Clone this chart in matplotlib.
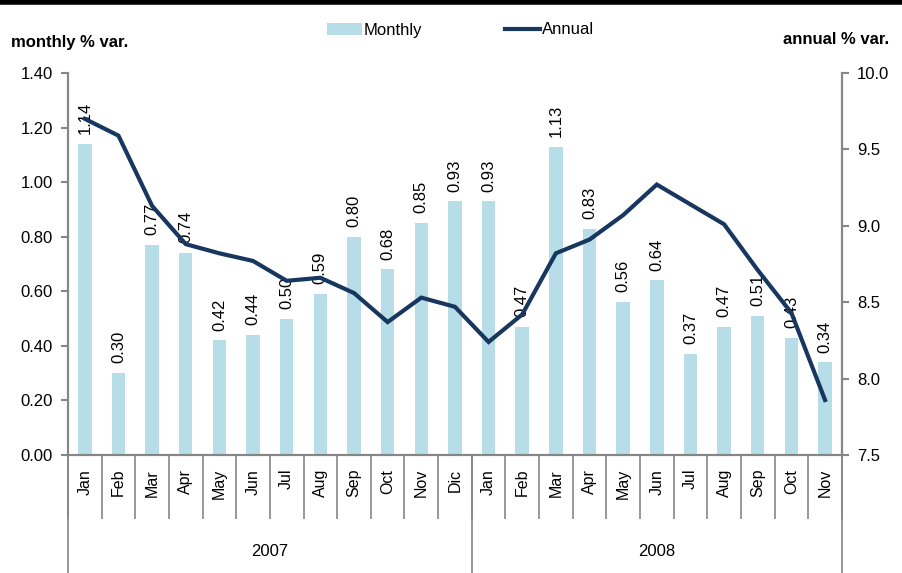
import numpy as np
import matplotlib
matplotlib.use('Agg')
import matplotlib.pyplot as plt
from matplotlib.patches import Patch
from matplotlib.lines import Line2D
import matplotlib.transforms as mtransforms

plt.rcParams['font.family'] = ['Liberation Sans', 'DejaVu Sans']

# data
months = ['Jan', 'Feb', 'Mar', 'Apr', 'May', 'Jun', 'Jul', 'Aug', 'Sep', 'Oct', 'Nov', 'Dic',
          'Jan', 'Feb', 'Mar', 'Apr', 'May', 'Jun', 'Jul', 'Aug', 'Sep', 'Oct', 'Nov']
years = ['2007', '2008']
year_counts = [12, 11]
monthly = [1.14, 0.30, 0.77, 0.74, 0.42, 0.44, 0.50, 0.59, 0.80, 0.68, 0.85, 0.93,
           0.93, 0.47, 1.13, 0.83, 0.56, 0.64, 0.37, 0.47, 0.51, 0.43, 0.34]
annual = [9.70, 9.59, 9.13, 8.88, 8.82, 8.77, 8.64, 8.66, 8.56, 8.37, 8.53, 8.47,
          8.24, 8.42, 8.82, 8.91, 9.07, 9.27, 9.14, 9.01, 8.71, 8.43, 7.86]

bar_color = '#B7DDE8'
line_color = '#17375E'
grey = '#868686'

fig = plt.figure(figsize=(9.03, 5.73), dpi=100)
ax = fig.add_axes([0.0753, 0.2059, 0.857, 0.6667])
x = np.arange(len(months))

ax.bar(x, monthly, width=0.4, color=bar_color, zorder=2)
for xi, v in zip(x, monthly):
    ax.annotate(f'{v:.2f}', (xi, v), xytext=(0, 7), textcoords='offset points',
                rotation=90, ha='center', va='bottom', fontsize=12, zorder=3)

ax.set_xlim(-0.5, len(months) - 0.5)
ax.set_ylim(0, 1.4)
ax.set_yticks(np.arange(0, 1.41, 0.2))
ax.set_yticklabels([f'{t:.2f}' for t in np.arange(0, 1.41, 0.2)], fontsize=12)

ax2 = ax.twinx()
ax2.plot(x, annual, color=line_color, linewidth=3.0, zorder=4, solid_joinstyle='miter')
ax2.set_ylim(7.5, 10.0)
ax2.set_yticks(np.arange(7.5, 10.01, 0.5))
ax2.set_yticklabels([f'{t:.1f}' for t in np.arange(7.5, 10.01, 0.5)], fontsize=12)

for a in (ax, ax2):
    a.spines['top'].set_visible(False)
    for s in ['left', 'right', 'bottom']:
        a.spines[s].set_color(grey)
        a.spines[s].set_linewidth(1.5)
ax.tick_params(axis='y', direction='out', length=5, width=1.5, color=grey, pad=6)
ax2.tick_params(axis='y', direction='out', length=5, width=1.5, color=grey, pad=6)

# month labels and separators
ax.set_xticks(x)
ax.set_xticklabels(months, rotation=90, fontsize=11.5)
ax.tick_params(axis='x', which='major', length=0, pad=10)
ax.set_xticks(np.arange(-0.5, len(months), 1.0), minor=True)
ax.tick_params(axis='x', which='minor', direction='out', length=46, width=1.2, color=grey)

# year groups
trans = mtransforms.blended_transform_factory(ax.transData, fig.transFigure)
start = -0.5
for yr, n in zip(years, year_counts):
    ax.text(start + n / 2, 1 - 552 / 573, yr, transform=trans, ha='center', va='center', fontsize=12)
    start += n
bounds = np.concatenate([[-0.5], -0.5 + np.cumsum(year_counts)])
for b in bounds:
    ax.plot([b, b], [0.2059, 0.0], transform=trans, color=grey, linewidth=1.2, clip_on=False)

# axis titles
fig.text(0.012, 1 - 42 / 573, 'monthly % var.', fontsize=12, fontweight='bold', va='center', ha='left')
fig.text(0.985, 1 - 40 / 573, 'annual % var.', fontsize=12, fontweight='bold', va='center', ha='right')

# legend
handles = [Patch(facecolor=bar_color, edgecolor='none'),
           Line2D([0], [0], color=line_color, linewidth=3.0)]
fig.legend(handles, ['Monthly', 'Annual'], loc='center', bbox_to_anchor=(0.51, 1 - 30 / 573),
           ncol=2, frameon=False, fontsize=12, columnspacing=5, handlelength=2.1, handletextpad=0.1)

# black bar at the top of the figure
fig.add_artist(Line2D([0, 1], [0.997, 0.997], color='black', linewidth=4, transform=fig.transFigure))

fig.savefig('out.png', dpi=100)
